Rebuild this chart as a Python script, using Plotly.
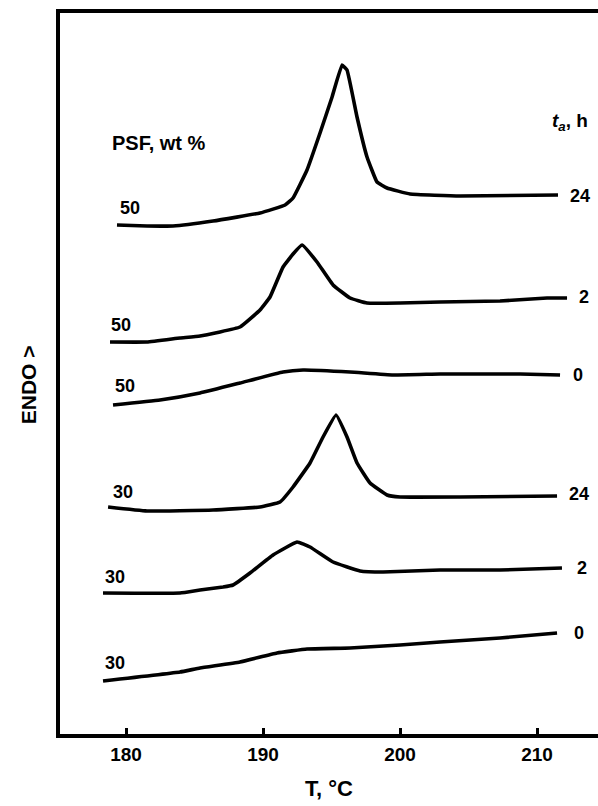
import plotly.graph_objects as go

# Temperature (deg C) and relative heat-flow signal (arbitrary units, ENDO up)
T_50_24 = [179.34, 181.53, 183.43, 186.35, 189.78, 191.61, 192.19, 193.21, 194.16, 195.04,
           195.77, 196.13, 196.86, 197.59, 198.32, 199.05, 200.73, 204.38, 211.53]
Y_50_24 = [509, 508, 508, 513, 521, 529, 536, 564, 601, 637,
           669, 664, 617, 577, 552, 546, 540, 538, 539]

T_50_2 = [178.83, 181.53, 183.94, 185.40, 188.32, 189.78, 190.51, 191.46, 192.19, 192.85,
          193.94, 195.11, 196.35, 197.59, 200.00, 202.92, 207.30, 210.73, 212.19]
Y_50_2 = [392, 392, 396, 398, 407, 424, 437, 467, 480, 489,
          472, 449, 436, 431, 431, 432, 433, 436, 436]

T_50_0 = [179.05, 182.48, 185.40, 188.32, 191.46, 192.92, 196.35, 199.49, 202.92,
          205.84, 208.76, 211.68]
Y_50_0 = [329, 334, 341, 351, 362, 364, 362, 359, 360, 360, 360, 359]

T_30_24 = [178.69, 181.53, 186.35, 189.78, 191.24, 192.19, 193.43, 194.38, 195.33, 196.13,
           196.86, 197.81, 199.05, 200.00, 204.38, 211.46]
Y_30_24 = [227, 223, 224, 227, 232, 247, 271, 297, 319, 297,
           271, 251, 239, 237, 237, 238]

T_30_2 = [178.32, 183.94, 185.40, 187.08, 187.81, 189.05, 190.73, 192.48, 193.43, 195.11,
          197.08, 198.76, 202.92, 207.30, 211.82]
Y_30_2 = [141, 141, 144, 147, 149, 161, 179, 192, 187, 172, 163, 162, 164, 164, 166]

T_30_0 = [178.32, 183.94, 185.40, 188.32, 191.02, 193.21, 196.35, 200.00, 202.92, 207.30, 211.46]
Y_30_0 = [53, 62, 66, 72, 81, 85, 86, 89, 92, 96, 101]

PSF_LABELS = ["50", "50", "50", "30", "30", "30"]
TA_LABELS = ["24", "2", "0", "24", "2", "0"]
X_TICKS = [180, 190, 200, 210]

curves = [(T_50_24, Y_50_24), (T_50_2, Y_50_2), (T_50_0, Y_50_0),
          (T_30_24, Y_30_24), (T_30_2, Y_30_2), (T_30_0, Y_30_0)]

# label anchor positions (data coords)
left_pos = [(180.29, 526), (179.64, 409), (179.93, 348), (179.78, 242), (179.20, 157), (179.20, 71)]
right_pos = [(212.26, 538), (212.92, 437), (212.48, 359), (212.19, 240), (212.77, 166), (212.55, 101)]

FONT = "Liberation Sans, Arial, Helvetica, sans-serif"

fig = go.Figure()
for (t, y) in curves:
    fig.add_trace(go.Scatter(x=t, y=y, mode="lines",
                             line=dict(color="black", width=3.6, shape="spline", smoothing=0.3),
                             showlegend=False, hoverinfo="skip"))

ann = []
for lab, (x, y) in zip(PSF_LABELS, left_pos):
    ann.append(dict(x=x, y=y, xref="x", yref="y", text=lab, showarrow=False,
                    font=dict(size=18, family=FONT, color="black", weight="bold"),
                    xanchor="center", yanchor="middle"))
for lab, (x, y) in zip(TA_LABELS, right_pos):
    ann.append(dict(x=x, y=y, xref="x", yref="y", text=lab, showarrow=False,
                    font=dict(size=18, family=FONT, color="black", weight="bold"),
                    xanchor="left", yanchor="middle"))
ann.append(dict(x=182.41, y=591, xref="x", yref="y", text="PSF, wt %", showarrow=False,
                font=dict(size=20, family=FONT, color="black", weight="bold"),
                xanchor="center", yanchor="middle"))
ann.append(dict(x=210.95, y=612, xref="x", yref="y",
                text="<i>t</i><sub><i>a</i></sub>, h", showarrow=False,
                font=dict(size=19, family=FONT, color="black", weight="bold"),
                xanchor="left", yanchor="middle"))
ann.append(dict(x=-0.059, y=0.484, xref="paper", yref="paper", text="ENDO >",
                textangle=-90, showarrow=False,
                font=dict(size=21, family=FONT, color="black", weight="bold"),
                xanchor="center", yanchor="middle"))

fig.update_layout(
    width=598, height=806,
    margin=dict(l=60, r=0, t=13, b=72),
    paper_bgcolor="white", plot_bgcolor="white",
    annotations=ann,
    font=dict(family=FONT, color="black"),
    hovermode=False,
)
fig.update_xaxes(range=[175.18, 214.45], tickvals=X_TICKS, ticks="inside", ticklen=6,
                 tickwidth=3, tickcolor="black", showline=True, linewidth=4, linecolor="black",
                 mirror=True, showgrid=False, zeroline=False,
                 tickfont=dict(size=19, family=FONT, color="black", weight="bold"),
                 title=dict(text="T, °C", font=dict(size=22, family=FONT, color="black", weight="bold"),
                            standoff=18))
fig.update_yaxes(range=[0, 721], showticklabels=False, ticks="", showline=True, linewidth=4,
                 linecolor="black", showgrid=False, zeroline=False, mirror=False)

# remove the browser's default 8px body margin so the figure fills the window exactly
fig.write_html("out.html", config={"displayModeBar": False},
               post_script="document.body.style.margin='0';document.body.style.overflow='hidden';")
